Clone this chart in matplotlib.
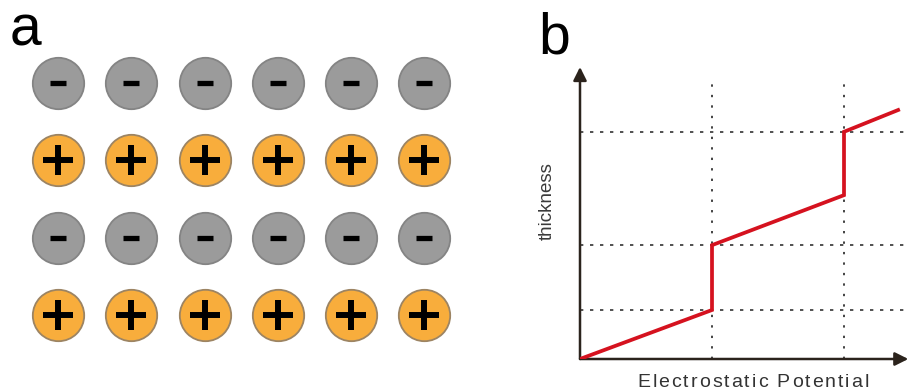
import matplotlib
matplotlib.use('Agg')
import matplotlib.pyplot as plt
from matplotlib import font_manager

W, H = 907, 391

# panel a: rows of charged particles (top to bottom)
row_sign = ['-', '+', '-', '+']
n_cols = 6

# panel b: thickness vs electrostatic potential
potential = [0, 1, 1, 2, 2, 2.41]
thickness = [0, 0.99, 2.30, 3.31, 4.59, 5.03]
grid_x = [1, 2]
grid_y = [0.99, 2.30, 4.59]

gray_face = '#9b9b9b'
gray_edge = '#848484'
orange_face = '#f8ad3c'
orange_edge = '#9c8463'
red = '#d5121f'
axis_col = '#2b231c'


def px_ax(fig, left, top, right, bottom):
    return fig.add_axes([left / W, 1 - bottom / H, (right - left) / W, (bottom - top) / H])


def spaced_text(fig, s, cx, base, size, gap, color):
    # letter-spaced text, centred at cx, baseline at base (pixels from top)
    font = font_manager.get_font(font_manager.findfont('Liberation Sans'))
    font.set_size(size, 100)
    adv = []
    for ch in s:
        g = font.load_char(ord(ch))
        adv.append(g.linearHoriAdvance / 65536)
    total = sum(adv) + gap * (len(s) - 1)
    x = cx - total / 2
    for ch, a in zip(s, adv):
        fig.text(x / W, 1 - base / H, ch, fontsize=size, family='Liberation Sans',
                 color=color, ha='left', va='baseline')
        x += a + gap


fig = plt.figure(figsize=(W / 100, H / 100), dpi=100)

# ---- panel a
col_step, row_step = 73.3, 77.3
ax1 = px_ax(fig, 58 - col_step / 2, 83 - row_step / 2,
            58 + (n_cols - 0.5) * col_step, 83 + 3.5 * row_step)
ax1.set_xlim(-0.5, n_cols - 0.5)
ax1.set_ylim(len(row_sign) - 0.5, -0.5)
ax1.axis('off')
for r, sign in enumerate(row_sign):
    xs = list(range(n_cols))
    ys = [r] * n_cols
    if sign == '-':
        ax1.plot(xs, ys, 'o', ms=37, mfc=gray_face, mec=gray_edge, mew=1.3, ls='none')
        ax1.plot(xs, ys, '_', ms=12, mew=3.8, color='black', ls='none')
    else:
        ax1.plot(xs, ys, 'o', ms=37, mfc=orange_face, mec=orange_edge, mew=1.3, ls='none')
        ax1.plot(xs, ys, '+', ms=21, mew=4.3, color='black', ls='none')

fig.text(10 / W, 1 - 45 / H, 'a', fontsize=41, family='Liberation Sans', ha='left', va='baseline')
fig.text(538 / W, 1 - 53 / H, 'b', fontsize=41, family='Liberation Sans', ha='left', va='baseline')

# ---- panel b
x_px, y_px = 132, 49.5
ax2 = px_ax(fig, 580, 67, 907, 359)
ax2.set_xlim(0, (907 - 580) / x_px)
ax2.set_ylim(0, (359 - 67) / y_px)
ax2.axis('off')
xmax = ax2.get_xlim()[1]
ytop = (359 - 83) / y_px
for gy in grid_y:
    ax2.plot([0, xmax], [gy, gy], color='#333333', lw=1.2, ls=(0, (2, 4)), clip_on=False)
for gx in grid_x:
    ax2.plot([gx, gx], [0, ytop], color='#333333', lw=1.3, ls=(0, (1.3, 4.5)), clip_on=False)

ax2.plot(potential, thickness, color=red, lw=2.7, solid_joinstyle='miter', zorder=5)

ax2.annotate('', xy=(0, ax2.get_ylim()[1]), xytext=(0, 0),
             arrowprops=dict(arrowstyle='-|>', lw=1.8, color=axis_col, mutation_scale=20,
                             shrinkA=0, shrinkB=0), annotation_clip=False)
ax2.annotate('', xy=(xmax + 0.01, 0), xytext=(0, 0),
             arrowprops=dict(arrowstyle='-|>', lw=1.8, color=axis_col, mutation_scale=20,
                             shrinkA=0, shrinkB=0), annotation_clip=False)

fig.text(556 / W, 1 - 201 / H, 'thickness', fontsize=13.5, family='Liberation Sans',
         color='#3a3a3a', rotation=90, ha='right', va='center')
spaced_text(fig, 'Electrostatic Potential', 753, 387, 14, 2.0, '#333333')

fig.savefig('out.png', dpi=100)
